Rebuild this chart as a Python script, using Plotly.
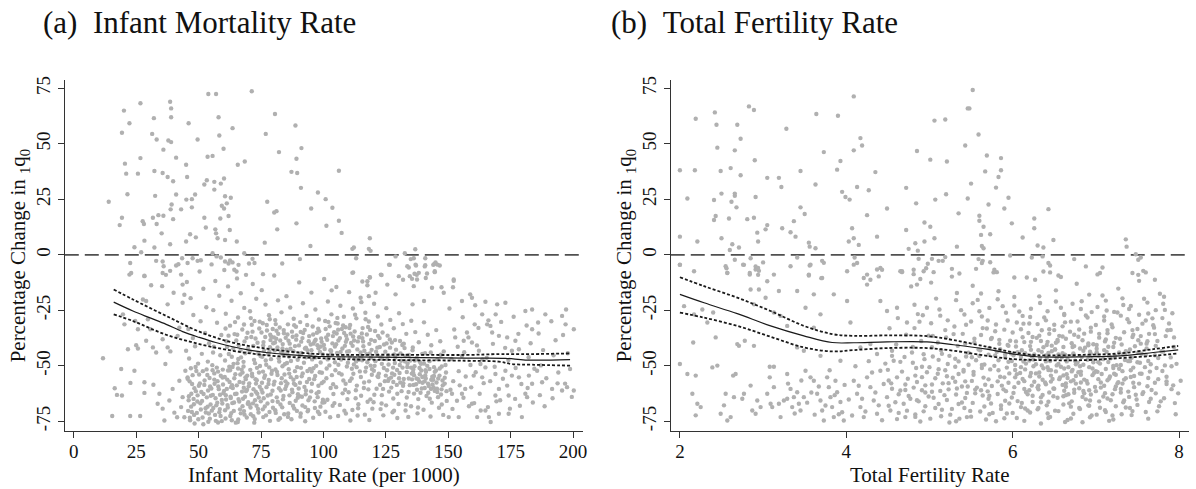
import plotly.graph_objects as go

FONT = "Liberation Serif, Times New Roman, serif"

# ---------------- Panel (a): Infant Mortality Rate ----------------
# scatter points "x,y"
imr_upper = """
14.0,23.9 18.4,13.4 19.3,16.7 19.3,55.0 20.1,65.0 20.5,41.1 21.0,36.6 21.5,27.3 22.3,59.3 24.3,3.4
25.7,36.6 26.7,43.6 27.0,1.2 26.7,68.3 27.6,15.2 28.1,13.9 28.3,6.4 31.4,54.5 31.7,16.7 32.1,61.6
32.3,37.8 32.6,26.6 32.3,3.3 33.2,52.0 33.2,13.9 33.9,17.9 35.2,9.7 35.6,36.9 35.9,47.4 35.9,17.6
37.6,35.1 37.9,51.5 38.6,69.0 39.0,66.0 39.0,62.0 39.0,50.8 38.8,20.5 39.2,22.7 38.6,4.8 39.8,33.2
39.8,16.1 41.0,43.8 41.0,27.2 43.0,20.5 45.0,40.6 45.4,35.1 45.1,24.9 45.0,6.0 46.0,59.3 46.6,9.3
47.3,25.1 47.3,21.4 48.6,27.2 49.6,52.0 48.9,7.9 52.3,31.7 52.3,16.7 52.9,12.3 53.3,33.6 53.6,44.2
53.9,72.5 55.6,44.6 56.3,29.4 56.3,32.9 57.0,72.5 56.7,11.5 57.0,9.7 57.6,7.5 58.0,62.0 58.3,53.8
58.7,16.4 58.9,32.1 59.3,22.1 60.0,47.8 60.2,34.4 60.6,26.4 60.2,20.9 60.6,6.7 61.3,23.2 62.0,17.5
62.5,11.2 62.9,25.7 63.6,57.1 65.3,6.0 65.7,40.6 68.5,42.1 71.3,73.7 76.5,5.5 76.9,54.5 77.5,23.9
80.3,19.1 81.2,19.7 80.6,63.5 81.5,11.5 82.2,46.3 87.2,37.4 88.8,58.3 89.2,43.3 89.5,36.9 89.2,14.2
91.0,30.2 91.2,48.1 95.1,20.9 94.8,4.0 97.8,28.1
22.6,-3.7 23.0,-8.2 28.3,-9.4 33.0,-2.7 35.6,-3.0 35.6,-8.2 36.9,-9.0 38.6,-7.2 41.0,-4.8 41.9,-4.2
43.4,-1.5 45.6,-3.7 47.6,-1.5 49.6,-2.7 50.9,-2.4 55.6,0.7 57.2,-0.7 58.9,-1.2 60.6,-3.0 62.0,-3.9
62.6,-2.5 63.6,-3.4 64.3,-6.7 65.2,-7.5 66.0,-4.5 68.3,0.7 69.0,-9.0 71.6,-1.8 72.4,-3.7 75.8,-8.7
83.5,-3.9 90.6,-1.9
100.9,25.1 101.2,13.1 103.6,21.2 106.2,37.9 106.2,15.4 107.3,9.9 111.6,2.7 112.2,3.3 113.1,-1.5
118.6,7.5 118.2,2.7 118.9,1.8 111.9,-7.9 115.6,-12.0 118.6,-10.2 123.3,-9.1 126.6,-4.5 128.9,-0.7
132.6,0.7 134.2,-5.7 135.0,-1.9 136.2,-1.5 136.8,2.5 137.1,-4.8 137.4,-9.0 136.5,-8.5 140.8,-1.5
140.6,-5.2 141.5,-8.4 144.0,-4.5 144.9,-3.4 146.6,-4.8 144.6,-7.8 131.9,-11.2 135.5,-10.8 152.2,-11.7
"""
imr_left = """
11.7,-46.6 15.4,-72.6 16.4,-60.1 17.3,-63.1 19.0,-51.4 19.3,-63.4 19.7,-26.8 20.3,-31.3 21.7,-42.5
22.6,-72.6 22.7,-57.7 24.3,-52.2 25.0,-40.7 25.7,-42.2 26.6,-72.6 25.7,-33.5 24.6,-29.8 22.3,-8.9
28.3,-9.6 29.0,-20.8 27.7,-20.1 29.7,-29.0 29.0,-38.7 28.3,-62.2 28.3,-57.4 30.7,-33.5 31.0,-13.7
31.7,-41.7 31.9,-58.5 33.0,-44.0 33.6,-67.1 34.3,-62.6 35.4,-14.1 35.6,-38.0 35.6,-69.3 36.0,-5.1
36.3,-74.6 36.7,-49.2 37.6,-22.3 37.6,-41.7 38.3,-65.6 38.7,-43.5 39.6,-60.4 40.0,-17.1 40.3,-71.1
41.4,-73.2 41.6,-36.5 42.3,-32.8 42.3,-56.7 43.0,-8.9 43.6,-13.4 43.6,-21.6 44.3,-18.0 44.7,-52.2
43.0,-68.6 43.6,-64.1 44.3,-73.2 45.0,-43.2 45.6,-55.2
"""
imr_right = """
103.3,-16.0 111.6,-8.1 118.6,-10.1 117.6,-13.7 123.0,-8.9 126.3,-4.4 125.6,-13.4 128.9,-17.8 130.2,-9.6
133.6,-5.1 134.6,-9.6 136.9,-4.4 138.2,-8.1 136.2,-14.1 137.5,-11.1 140.8,-4.7 141.0,-10.4 144.4,-4.1
144.6,-7.4 145.7,-4.4 143.5,-14.8 140.3,-20.8 135.7,-22.3 147.3,-14.6 148.2,-17.1 152.2,-11.1 151.9,-14.6
155.5,-20.8 158.8,-17.8 159.5,-19.3 164.9,-21.1 169.6,-22.3 172.9,-21.6 117.6,-11.9 114.9,-19.3 118.2,-18.6
120.9,-17.1 160.6,-31.3 163.6,-26.8 165.6,-31.3 166.9,-32.0 167.6,-35.0 169.0,-26.8 170.3,-36.5 176.9,-38.7
178.3,-42.5 180.9,-25.3 183.6,-24.6 186.0,-30.5 188.9,-26.8 195.6,-27.5 197.0,-31.3 200.3,-33.5 183.6,-33.5
173.6,-37.2 175.5,-43.2 162.3,-43.2 159.5,-39.5 158.1,-37.2 152.8,-37.2 155.5,-45.5 156.2,-38.7 164.9,-50.7
168.9,-53.7 172.9,-52.2 175.5,-54.4 178.3,-55.2 182.3,-54.4 183.6,-58.1 185.6,-52.2 187.6,-57.4 191.6,-60.4
195.6,-61.1 197.6,-59.6 200.3,-61.1 180.9,-62.6 181.6,-64.1 174.2,-63.4 170.3,-60.4 168.9,-63.4 174.2,-71.6
179.5,-73.1 170.3,-71.6 166.3,-73.1 164.9,-70.1 163.0,-70.1 161.6,-73.1 167.0,-75.3 159.5,-67.1 155.5,-62.6
156.8,-60.4 151.5,-62.6 154.2,-73.1 150.2,-73.1 163.6,-55.2 162.9,-49.2 160.2,-54.4
"""
imr_cloud = """
45.3,-12.2 46.8,-19.5 47.9,-27.1 45.9,-33.4 48.6,-41.2 46.2,-46.7 49.1,-52.3 45.6,-55.8 47.4,-58.2 48.9,-61.4
46.1,-63.7 49.5,-66.1 47.0,-68.4 45.8,-70.3 48.2,-72.1 46.6,-74.5 49.8,-49.0 47.7,-37.5 48.0,-64.9 49.3,-71.2
50.4,-7.5 51.9,-15.3 53.1,-23.6 50.8,-29.9 52.6,-35.2 54.2,-39.8 51.3,-44.6 53.7,-48.1 50.2,-53.9 52.4,-56.6
54.6,-59.3 51.1,-61.8 53.3,-64.2 50.7,-66.9 52.8,-69.1 54.1,-71.5 51.6,-73.3 53.9,-75.2 50.5,-57.9 54.8,-67.4
52.0,-62.7 53.5,-54.1 55.2,-4.3 56.7,-11.8 58.3,-18.4 55.9,-24.9 57.4,-30.6 59.1,-36.1 56.1,-41.4 58.7,-45.2
55.5,-49.7 57.8,-52.6 59.6,-55.3 56.4,-58.1 58.1,-60.5 55.7,-63.1 59.3,-65.4 57.1,-67.8 55.3,-70.2 58.8,-72.6
56.9,-74.8 59.9,-62.3 57.6,-56.9 55.8,-44.0 58.5,-69.5 56.3,-53.4 60.3,-6.8 61.8,-14.2 63.2,-20.7 60.9,-26.5
62.6,-31.9 64.4,-35.7 61.2,-38.9 63.9,-42.3 60.6,-47.6 62.3,-50.4 64.7,-53.8 61.5,-56.2 63.4,-58.7 60.2,-61.3
62.8,-63.9 64.2,-66.5 61.7,-68.8 63.1,-71.3 60.8,-73.7 64.9,-75.6 62.1,-44.7 63.7,-60.0 61.0,-65.2 64.0,-49.1
65.4,-10.6 66.9,-17.3 68.3,-23.9 65.8,-28.2 67.5,-33.6 69.2,-37.4 66.1,-40.7 68.7,-44.3 65.6,-48.8 67.2,-51.7
69.5,-54.4 66.4,-57.3 68.1,-59.9 65.2,-62.6 67.8,-64.8 69.7,-67.1 66.6,-69.6 68.4,-72.0 65.9,-74.2 67.0,-46.2
69.0,-61.4 65.5,-36.0 68.9,-56.0 66.3,-66.1 70.2,-3.9 71.7,-13.1 73.1,-19.8 70.6,-25.4 72.4,-29.8 74.3,-33.2
71.1,-37.0 73.6,-39.6 70.5,-43.5 72.2,-47.3 74.6,-50.1 71.4,-53.6 73.3,-56.5 70.1,-59.2 72.9,-61.7 74.1,-64.3
71.8,-66.9 73.8,-69.4 70.9,-71.8 72.5,-74.0 74.8,-45.6 71.3,-31.5 73.0,-58.0 70.4,-67.5 75.3,-15.9 76.8,-22.4
78.2,-27.2 75.7,-30.8 77.4,-34.1 79.1,-36.9 76.0,-39.3 78.6,-41.6 75.5,-45.9 77.1,-49.5 79.4,-52.2 76.3,-55.4
78.0,-58.2 75.2,-60.8 77.7,-63.4 79.6,-65.9 76.5,-68.3 78.4,-70.8 75.9,-73.1 77.3,-31.6 78.8,-38.4 76.2,-43.2
79.0,-47.0 75.6,-62.0 80.3,-9.3 81.8,-20.5 83.2,-25.9 80.7,-29.4 82.5,-32.7 84.2,-35.3 81.1,-37.8 83.7,-40.2
80.5,-43.1 82.1,-46.6 84.5,-49.3 81.4,-52.7 83.3,-55.6 80.1,-58.4 82.9,-61.1 84.0,-63.6 81.7,-66.2 83.5,-68.7
80.9,-71.2 82.6,-73.6 84.8,-57.0 81.2,-34.2 83.9,-44.8 80.6,-39.5 85.2,-18.6 86.7,-23.7 88.1,-28.8 85.8,-31.3
87.4,-34.6 89.2,-36.3 86.0,-38.7 88.6,-41.1 85.5,-44.5 87.0,-47.8 89.5,-50.6 86.3,-53.5 88.0,-56.3 85.1,-59.1
87.6,-61.9 89.7,-64.4 86.5,-66.7 88.3,-69.2 85.9,-71.5 87.2,-74.1 89.0,-32.4 86.8,-42.3 88.8,-58.6 85.4,-48.7
90.3,-12.4 91.8,-21.8 93.2,-27.5 90.7,-30.3 92.5,-33.8 94.3,-36.6 91.1,-39.1 93.6,-42.9 90.5,-45.4 92.2,-48.6
94.6,-51.4 91.3,-54.7 93.4,-57.3 90.1,-60.2 92.9,-62.8 94.0,-65.5 91.6,-67.9 93.7,-70.5 90.8,-72.9 92.7,-75.0
94.9,-40.4 91.9,-35.2 93.1,-46.1 90.4,-63.7 95.2,-17.0 96.8,-24.6 98.2,-29.1 95.7,-32.3 97.4,-35.1 99.1,-37.7
96.0,-40.0 98.6,-43.7 95.5,-47.1 97.1,-50.0 99.4,-53.1 96.3,-56.0 98.0,-59.0 95.1,-61.5 97.7,-64.1 99.6,-66.6
96.6,-69.0 98.4,-71.7 95.9,-73.4 97.9,-33.3 99.0,-41.3 96.9,-38.2 95.3,-52.6 98.9,-48.5 100.3,-10.9 101.8,-21.0
103.2,-26.8 100.7,-29.8 102.5,-32.2 104.3,-34.9 101.1,-37.2 103.6,-39.9 100.5,-42.4 102.2,-45.7 104.6,-48.4 101.3,-51.2
103.4,-54.2 100.1,-57.1 102.9,-60.0 104.0,-62.7 101.6,-65.3 103.7,-68.0 100.8,-70.7 102.7,-73.2 104.9,-30.7 101.9,-36.0
103.1,-43.3 100.4,-66.4 105.2,-14.5 106.8,-22.9 108.2,-27.9 105.7,-30.9 107.4,-33.4 109.1,-36.4 106.0,-38.6 108.6,-41.0
105.5,-44.2 107.1,-47.2 109.4,-50.3 106.3,-53.3 108.0,-56.6 105.1,-59.6 107.7,-62.4 109.6,-65.0 106.6,-67.6 108.4,-70.2
105.9,-72.6 107.9,-31.8 109.0,-39.2 106.9,-43.8 105.3,-35.4 108.9,-58.1 110.3,-16.8 111.8,-24.2 113.2,-28.6 110.7,-31.6
112.5,-34.5 114.3,-37.1 111.1,-39.7 113.6,-42.6 110.5,-45.9 112.2,-49.4 114.6,-52.5 111.3,-55.7 113.4,-58.9 110.1,-61.9
112.9,-64.6 114.0,-67.3 111.6,-69.9 113.7,-72.4 110.8,-74.6 112.7,-27.0 114.9,-44.0 111.9,-36.8 113.1,-48.0 110.4,-33.0
115.2,-21.3 116.8,-26.1 118.2,-30.0 115.7,-33.0 117.4,-35.9 119.1,-38.3 116.0,-41.2 118.6,-44.4 115.5,-47.5 117.1,-50.8
119.4,-54.0 116.3,-57.5 118.0,-60.6 115.1,-63.5 117.7,-66.2 119.6,-69.3 116.6,-72.0 118.4,-74.4 115.9,-39.0 117.9,-32.5
119.0,-46.3 116.9,-29.0 120.3,-22.0 121.8,-27.8 123.2,-31.4 120.7,-34.3 122.5,-37.5 124.3,-40.4 121.1,-43.6 123.6,-46.8
120.5,-50.0 122.2,-53.5 124.6,-56.9 121.3,-60.3 123.4,-63.2 120.1,-66.4 122.9,-69.5 124.0,-72.3 121.6,-41.8 123.7,-35.0
120.8,-47.9 122.7,-58.5 125.2,-24.0 126.8,-29.3 128.2,-33.1 125.7,-36.4 127.4,-39.5 129.1,-42.7 126.0,-45.3 128.6,-48.7
125.5,-52.0 127.1,-55.3 129.4,-58.6 126.3,-61.6 128.0,-64.7 125.1,-67.8 127.7,-70.9 129.6,-73.5 126.6,-38.1 128.4,-44.9
125.9,-56.8 127.9,-50.8 130.3,-26.3 131.8,-31.2 133.2,-35.6 130.7,-38.8 132.5,-42.0 134.3,-45.1 131.1,-47.7 133.6,-50.5
130.5,-53.2 132.2,-55.9 134.6,-58.7 131.3,-61.4 133.4,-64.3 130.1,-67.2 132.9,-70.1 134.0,-73.0 131.6,-40.6 133.7,-48.9
130.8,-57.5 135.2,-29.7 136.8,-34.8 138.2,-39.4 135.7,-43.0 137.4,-46.4 139.1,-49.1 136.0,-51.6 138.6,-53.8 135.5,-56.1
137.1,-58.3 139.4,-60.2 136.3,-62.5 138.0,-65.0 135.1,-68.2 137.7,-71.4 139.6,-55.0 136.6,-47.6 138.4,-57.2 135.9,-52.9
138.9,-62.1 140.3,-30.4 141.8,-36.0 143.2,-40.7 140.7,-44.3 142.5,-47.9 144.3,-50.6 141.1,-52.7 143.6,-54.9 140.5,-57.0
142.2,-59.1 144.6,-61.3 141.3,-63.6 143.4,-66.6 140.1,-69.8 142.9,-72.8 144.0,-56.3 141.6,-50.0 143.7,-58.4 140.8,-54.3
145.2,-33.9 146.8,-38.9 148.2,-43.5 145.7,-47.0 147.4,-50.3 149.1,-53.0 146.0,-55.7 148.6,-58.0 145.5,-60.3 147.1,-62.9
149.4,-65.8 146.3,-68.9 148.0,-72.1 145.1,-52.1 147.7,-56.6 145.9,-64.1 150.5,-24.2 152.4,-33.6 153.8,-41.4 151.3,-46.9
154.2,-52.4 152.0,-56.9 150.9,-60.8 153.5,-65.7 151.7,-69.4 154.6,-58.8 155.8,-28.1 157.5,-35.0 156.4,-43.9 158.9,-49.6
157.0,-54.8 159.2,-59.7 156.1,-64.4 158.3,-68.2 160.8,-22.7 162.1,-32.9 161.5,-40.8 163.7,-47.1 161.0,-52.9 164.2,-57.8
162.6,-62.6 160.4,-66.8 166.1,-29.5 167.9,-40.1 165.4,-46.4 168.6,-50.4 166.8,-56.9 169.3,-66.0 165.9,-68.6 171.2,-30.2
172.8,-41.9 174.1,-47.4 171.9,-55.8 173.6,-58.9 170.8,-65.5 174.7,-69.3 176.2,-27.9 178.1,-35.6 177.0,-51.0 179.3,-58.2
176.8,-64.9 178.7,-68.0 181.4,-31.8 183.0,-39.8 182.2,-46.1 184.5,-51.3 181.8,-60.0 183.9,-66.5 186.2,-35.4 188.0,-42.9
187.1,-49.8 189.3,-55.6 186.7,-63.2 188.6,-68.2 191.3,-29.9 193.0,-38.5 192.2,-45.2 194.1,-53.0 191.8,-64.6 193.8,-57.9
196.0,-36.1 197.9,-44.3 198.8,-51.4 196.8,-58.0 199.5,-64.0 197.2,-24.6
"""
imr_dense = """
46.9,-51.1 47.6,-54.2 46.4,-57.0 48.3,-60.1 47.1,-62.6 46.0,-65.5 48.1,-67.3 47.3,-70.8 46.5,-73.4 48.4,-76.0
48.8,-50.5 50.1,-59.0 49.6,-63.3 50.9,-69.7 49.9,-74.1 51.7,-52.4 52.3,-58.6 51.4,-65.8 52.9,-71.0 51.9,-76.3
53.2,-51.6 54.4,-55.5 53.8,-61.1 54.9,-63.5 53.6,-68.4 54.5,-73.8 55.6,-52.0 56.3,-56.2 55.1,-60.2 56.8,-64.6
55.9,-69.0 56.6,-72.1 57.3,-50.8 58.9,-54.5 57.9,-59.3 58.6,-63.0 57.5,-66.6 58.3,-70.9 57.8,-75.5 59.7,-51.7
60.5,-55.0 59.8,-58.4 60.9,-63.2 59.5,-67.0 60.6,-70.0 59.3,-74.9 61.8,-52.1 62.4,-57.3 61.3,-60.4 62.9,-64.5
61.6,-67.7 62.7,-72.6 63.6,-50.5 64.3,-55.6 63.0,-59.6 64.6,-62.7 63.5,-66.8 64.1,-70.3 63.3,-74.5 65.8,-51.2
66.7,-53.9 65.3,-58.8 67.4,-61.6 66.0,-65.0 67.6,-68.2 66.9,-71.4 65.7,-75.3 68.0,-50.3 68.8,-55.2 67.9,-57.6
69.4,-60.8 68.6,-63.9 69.9,-66.4 68.2,-70.4 69.3,-73.3 70.7,-51.8 71.5,-54.7 70.3,-57.9 72.0,-60.5 71.2,-63.0
72.6,-65.5 70.8,-68.8 71.9,-72.7 73.4,-50.9 74.2,-53.0 72.8,-56.0 74.5,-59.4 73.5,-62.6 74.9,-66.0 73.2,-68.0
74.0,-71.0 72.3,-75.6 75.8,-52.6 76.6,-54.3 75.4,-57.6 77.2,-59.6 76.1,-64.6 77.6,-67.0 75.7,-69.6 77.0,-72.3
78.3,-50.7 79.2,-53.6 78.1,-56.4 79.6,-61.2 78.9,-62.9 79.8,-68.9 78.6,-74.8 80.8,-51.6 81.6,-54.1 80.4,-57.1
82.2,-60.1 81.3,-64.2 82.8,-67.4 80.7,-70.0 82.0,-74.3 83.6,-50.2 84.4,-53.9 83.0,-57.8 84.7,-60.4 83.8,-65.1
84.3,-71.8 86.1,-51.5 86.9,-55.1 85.6,-58.0 87.4,-60.7 86.4,-63.3 87.8,-68.0 85.8,-73.0 88.6,-52.4 89.3,-55.0
88.2,-58.0 89.8,-62.8 88.9,-65.7 89.4,-70.3 91.0,-50.9 91.7,-53.4 90.6,-57.6 92.4,-59.5 91.4,-63.9 92.7,-68.6
90.9,-71.5 93.6,-52.3 94.3,-55.9 93.0,-61.1 94.6,-64.3 93.9,-69.9 96.0,-51.1 96.7,-54.6 95.4,-58.1 97.3,-62.4
96.5,-66.0 97.8,-70.7 98.5,-52.9 99.3,-57.8 98.1,-61.8 99.8,-65.3 98.8,-68.4
60.8,-33.2 62.0,-36.4 61.4,-41.5 63.3,-45.9 62.6,-52.0 64.6,-30.3 65.1,-38.6 66.8,-43.1 65.9,-46.9 67.6,-53.0
68.2,-31.4 69.6,-35.1 68.4,-39.0 69.8,-42.2 68.0,-48.2 70.9,-28.5 71.6,-34.6 72.8,-37.7 71.9,-41.0 73.9,-44.5
72.6,-48.8 74.5,-30.1 75.2,-35.0 76.7,-37.0 75.9,-40.8 77.9,-44.7 76.9,-47.6 78.5,-29.0 79.7,-33.4 78.7,-36.0
79.9,-39.8 78.3,-43.8 80.9,-31.2 81.9,-35.6 80.2,-37.2 82.7,-38.6 81.6,-41.7 83.1,-43.9 82.3,-48.1 84.1,-33.9
84.9,-37.4 83.6,-42.2 85.6,-35.9 86.5,-40.0 85.3,-42.7 87.7,-36.9 86.2,-45.8 88.3,-31.7 89.1,-38.2 88.0,-43.4
89.7,-47.3 90.9,-34.7 91.6,-37.5 90.2,-40.8 92.6,-42.2 91.2,-44.2 93.5,-31.6 94.1,-38.9 93.0,-41.8 94.7,-45.1
95.9,-35.9 96.5,-38.9 95.2,-43.0 97.6,-40.7 96.8,-46.2 98.3,-34.4 99.3,-39.2 98.0,-42.1 99.7,-44.9 100.9,-33.4
101.5,-38.3 100.2,-40.6 102.8,-43.0 101.7,-47.1 103.8,-36.6 104.6,-41.3 103.0,-45.0 105.9,-33.7 106.6,-37.5
105.1,-40.3 107.6,-42.2 106.2,-46.3 108.3,-35.2 109.4,-38.0 108.0,-45.6 109.8,-48.6 110.9,-35.5 111.7,-41.0
110.3,-43.4 112.6,-46.8 111.4,-51.3 113.8,-39.0 114.7,-45.4 113.3,-50.6 115.6,-37.5 116.4,-43.2 115.2,-45.9
117.6,-48.4 116.8,-52.6 118.4,-40.1 119.3,-42.8 118.9,-49.9 120.6,-38.8 121.5,-45.0 120.2,-52.2 122.6,-41.5
123.4,-49.1 122.0,-55.0 124.8,-43.6 125.6,-47.0 124.2,-51.0 126.7,-41.8 127.5,-53.4 126.2,-55.9 128.8,-46.2
129.5,-51.9 128.0,-57.3 130.9,-44.4 131.7,-50.8 130.3,-55.6 132.7,-48.0 133.4,-52.8 132.0,-57.8 134.8,-47.6
135.4,-53.5 134.2,-55.7 136.5,-50.2 137.3,-55.7 136.1,-58.6 138.6,-48.2 139.2,-52.1 138.0,-56.0 140.3,-49.0
141.0,-55.7 140.6,-60.0 142.5,-51.4 143.2,-56.3 142.0,-62.1 144.6,-52.7 145.3,-57.5 144.1,-59.7 146.5,-54.4
147.3,-60.6 148.6,-55.4 149.3,-61.4 147.0,-45.0 143.0,-44.0
101.2,-55.6 102.4,-49.8 103.9,-58.3 104.8,-52.0 106.0,-49.5 107.3,-53.9 108.7,-60.8 109.5,-43.6 110.6,-56.8
112.0,-53.6 113.0,-61.0 114.1,-47.3 115.0,-55.0 116.2,-60.0 117.3,-44.8 118.3,-57.0 119.5,-51.5 120.4,-63.0
121.7,-54.7 122.8,-46.2 123.9,-60.4 125.0,-54.4 126.1,-49.4 127.2,-59.8 128.4,-54.0 129.6,-62.6 130.6,-49.6
131.9,-59.0 132.9,-45.6 134.1,-61.8 135.1,-50.8 136.3,-54.2 137.5,-60.8 138.5,-51.0 139.7,-57.6 140.9,-52.0
141.9,-58.0 143.1,-60.4 144.3,-54.6 145.6,-61.8 146.6,-51.2 147.8,-58.8 148.9,-49.6 102.0,-30.2 105.6,-28.4
108.9,-32.6 112.3,-38.6 115.4,-35.4 118.7,-33.8 121.9,-36.5 125.3,-39.9 128.7,-38.4 132.2,-40.0 135.8,-41.7
139.6,-44.6 104.4,-66.8 109.0,-71.5 113.9,-69.1 118.8,-65.1 123.3,-67.0 128.3,-70.2 133.0,-67.5 137.9,-68.8
142.6,-64.8 147.4,-67.4
"""
imr_fit_x = [16, 23.7, 30.3, 37, 43.6, 50.3, 56.9, 63.6, 70.2, 76.9, 83.5, 90.2, 98.2, 103.9, 130.2, 156.8, 172.9, 180.9, 198.8]
imr_fit = [-21.3, -25.3, -28.3, -31.3, -34.6, -37.2, -39.5, -41.4, -42.9, -44.0, -44.7, -45.3, -45.8, -45.9, -46.2, -46.5, -46.6, -47.4, -47.2]
imr_band_x = [16, 23.7, 37, 50.3, 63.6, 76.9, 90.2, 98.2, 103.9, 130.2, 156.8, 170.3, 175.5, 183.6, 198.8]
imr_hi = [-15.6, -20.1, -27.5, -34.6, -39.5, -42.2, -44.0, -44.7, -45.0, -45.0, -45.1, -44.7, -44.7, -44.7, -44.4]
imr_lo = [-26.8, -29.8, -36.0, -40.2, -43.2, -45.2, -46.2, -46.5, -46.9, -47.4, -47.7, -48.1, -49.2, -49.5, -49.9]
imr_ticks = [0, 25, 50, 75, 100, 125, 150, 175, 200]

# ---------------- Panel (b): Total Fertility Rate ----------------
tfr_upper = """
2.00,38.1 2.00,8.2 2.00,-4.5 2.09,25.4 2.18,38.1 2.19,61.3 2.21,6.0 2.41,24.7 2.41,15.7 2.42,64.2
2.44,58.6 2.43,17.5 2.45,48.3 2.49,37.8 2.50,7.5 2.50,27.6 2.56,-6.0 2.57,-8.2 2.59,16.4 2.60,2.2
2.61,39.1 2.62,23.9 2.63,4.8 2.66,47.1 2.66,27.6 2.66,26.6 2.68,21.4 2.66,-2.2 2.69,58.6 2.71,3.3
2.73,52.3 2.73,35.9 2.77,-4.5 2.81,16.1 2.83,66.9 2.85,-1.5 2.84,-8.2 2.89,65.3 2.90,42.6 2.89,16.7
2.91,26.1 2.93,10.0 2.94,6.0 2.91,-5.2 2.95,-7.2 2.94,-9.0 3.00,-3.4 3.03,11.5 3.05,13.4 3.05,34.7
3.19,34.7 3.22,30.6 3.23,12.0 3.28,56.8 3.33,10.2 3.37,15.2 3.39,8.2 3.41,-1.2 3.45,37.8 3.45,21.4
3.50,18.4 3.55,5.5 3.56,3.7 3.56,-4.8 3.55,-9.3 3.63,31.7 3.63,3.0 3.64,63.5 3.71,-2.7 3.70,-10.5
3.73,46.3 3.89,38.4 3.90,62.7 3.93,42.3 3.95,28.4 3.99,26.1 4.04,24.9 4.03,6.0 4.07,12.0 4.09,71.4
4.09,47.1 4.09,7.5 4.10,-1.2 4.13,30.6 4.13,-3.7 4.15,4.5 4.17,52.6 4.19,49.3 4.25,17.9 4.27,29.1
4.29,-11.2 4.35,37.3 4.37,8.2 4.39,-9.7 4.43,-6.7 4.49,20.9 4.67,-7.8 4.72,30.2 4.72,11.2
4.75,2.7 4.83,5.2 4.84,23.2 4.85,46.8 4.86,1.9 4.87,-1.8 4.81,-6.7 4.81,-8.7 4.89,-10.9 4.94,14.6
4.94,6.0 4.96,-6.0 4.98,-4.0 5.01,12.7 5.01,42.9 5.03,-1.8 5.05,-7.8 5.06,60.5 5.06,7.5 5.07,24.9
5.11,-2.7 5.16,-2.7 5.19,61.0 5.19,-1.0 5.20,27.3 5.21,42.1 5.27,-6.3 5.33,3.7 5.35,18.7 5.36,-8.4
5.43,49.3 5.46,25.4 5.46,66.0 5.48,66.0 5.50,32.1 5.52,74.3 5.56,-6.3 5.59,54.2 5.60,17.6 5.60,15.4
5.59,-1.9 5.62,9.0 5.63,-3.7 5.64,-2.7 5.63,4.0 5.65,12.7 5.65,3.0 5.67,37.6 5.69,44.8 5.71,22.7
5.73,9.3 5.73,-3.3 5.78,-6.7 5.81,-7.8 5.80,30.3 5.83,35.1 5.86,43.6 5.86,38.1 5.90,20.9 5.95,25.7
5.97,-0.3 5.99,14.2 6.02,-10.2 6.12,7.8 6.17,-10.2 6.23,-1.2 6.26,12.0 6.26,16.4 6.30,4.2 6.36,-0.7
6.37,3.3 6.37,-7.5 6.43,20.6 6.43,-3.7 6.45,-4.8 6.45,-7.9 6.49,6.7 6.55,-9.3 6.58,-10.0 6.74,-1.9
6.88,-5.2 7.05,-8.2 7.08,-5.7 7.36,7.0 7.37,3.7 7.48,0.3 7.51,-2.2 7.54,-1.2 7.44,-8.2 7.51,-9.0
7.57,-7.2 7.60,-7.9 7.71,-11.2
"""
tfr_left = """
2.00,-49.2 2.09,-53.7 2.16,-39.5 2.15,-62.6 2.19,-54.4 2.21,-67.1 2.25,-68.6 2.19,-72.3 2.05,-23.1 2.17,-26.8
2.27,-24.6 2.33,-30.5 2.40,-26.0 2.43,-37.2 2.39,-50.7 2.45,-49.9 2.49,-71.6 2.53,-67.8 2.55,-62.6 2.57,-74.6
2.61,-73.1 2.64,-54.4 2.67,-53.7 2.65,-64.1 2.69,-40.2 2.71,-41.0 2.75,-64.8 2.77,-62.6 2.78,-38.7 2.85,-58.9
2.87,-70.1 2.91,-71.6 2.93,-65.6 2.97,-68.6 2.89,-41.0 2.89,-22.3 2.95,-15.6 2.85,-15.6 2.91,-6.6 3.03,-19.3
3.05,-11.9 3.05,-62.6 3.09,-67.1 3.11,-68.6 3.08,-55.2 3.13,-59.6 3.19,-67.1 3.21,-73.1 3.25,-65.6 3.29,-64.8
3.33,-60.4 3.35,-68.6 3.37,-64.1 3.41,-61.9 3.43,-67.1 3.45,-70.1 3.49,-64.1 3.51,-52.2 3.49,-43.2 3.41,-41.7
3.13,-50.4 3.08,-50.4 3.29,-53.7 3.19,-16.3 3.13,-26.0 3.21,-27.5 3.29,-32.0 3.41,-16.3 3.51,-23.8 3.57,-55.2
3.61,-56.7 3.65,-62.6 3.69,-65.6 3.71,-70.1 3.73,-74.6 3.77,-55.2 3.79,-59.6 3.81,-64.1 3.83,-68.6 3.85,-73.1
3.87,-56.7 3.89,-61.9 3.93,-66.3 3.95,-70.9 3.97,-74.6 3.93,-47.7 3.69,-45.5 3.61,-32.8 3.69,-26.8 3.61,-17.8
3.71,-10.4 3.85,-17.8 4.01,-20.8 4.05,-30.5 4.09,-56.7 4.13,-62.6 4.17,-68.6 4.21,-73.1 4.25,-55.2 4.29,-59.6
4.33,-65.6 4.37,-71.6 4.41,-52.2 4.45,-58.2 4.49,-64.1 4.53,-70.1 4.57,-47.7 4.61,-55.2 4.65,-61.1 4.69,-67.1
4.71,-73.1 4.21,-10.4 4.25,-13.4 4.37,-6.6 4.41,-20.8 4.49,-25.3 4.61,-23.8 4.67,-7.4 4.17,-41.7 4.29,-40.2
4.37,-44.7 4.55,-43.2 2.00,-4.4 2.17,-7.4 2.55,-5.1 2.57,-8.1 2.76,-4.4 2.84,-8.9 2.94,-5.9 3.13,-8.9
3.33,-5.1 3.55,-8.9 3.57,-4.4 3.73,-3.6 4.01,-7.4 4.09,-4.4 4.25,-8.9 4.41,-5.9 4.65,-7.4 4.85,-13.4
4.73,-30.5 4.97,-23.8 4.93,-7.4
"""
tfr_cloud = """
4.78,-14.2 4.82,-22.5 4.88,-30.1 4.93,-44.8 4.80,-48.6 4.97,-52.9 4.85,-57.3 4.91,-61.0 4.77,-64.8 4.95,-68.2
4.83,-71.9 4.89,-75.1 4.99,-36.4 4.86,-26.7 5.02,-12.5 5.08,-19.7 5.13,-27.4 5.19,-33.9 5.04,-45.8 5.22,-49.2
5.10,-53.6 5.16,-57.9 5.03,-61.7 5.21,-65.4 5.07,-69.0 5.14,-72.7 5.24,-75.5 5.11,-47.3 5.18,-63.2 5.27,-9.8
5.33,-17.2 5.38,-24.9 5.44,-31.5 5.29,-35.7 5.47,-44.1 5.35,-48.0 5.41,-51.8 5.28,-55.4 5.46,-59.3 5.32,-62.9
5.39,-66.5 5.49,-70.3 5.36,-73.8 5.43,-40.0 5.31,-57.2 5.52,-13.9 5.58,-20.3 5.63,-27.8 5.69,-33.2 5.54,-37.8
5.72,-41.9 5.60,-45.6 5.66,-49.4 5.53,-52.7 5.71,-56.1 5.57,-59.8 5.64,-63.4 5.74,-67.0 5.61,-70.6 5.68,-74.2
5.56,-47.5 5.70,-61.5 5.62,-36.1 5.77,-7.9 5.83,-16.4 5.88,-23.1 5.94,-29.6 5.79,-34.4 5.97,-38.7 5.85,-42.5
5.91,-46.3 5.78,-50.0 5.96,-53.4 5.82,-57.0 5.89,-60.6 5.99,-64.3 5.86,-67.9 5.93,-71.5 5.80,-75.0 5.95,-48.2
5.84,-40.1 5.90,-55.2 5.98,-44.4 6.02,-19.0 6.08,-25.5 6.13,-31.0 6.19,-35.2 6.04,-39.0 6.22,-42.8 6.10,-46.0
6.16,-49.0 6.03,-51.9 6.21,-54.7 6.07,-57.6 6.14,-60.4 6.24,-63.5 6.11,-66.7 6.18,-70.1 6.05,-73.5 6.20,-47.6
6.09,-53.2 6.15,-44.3 6.23,-58.9 6.01,-62.2 6.12,-37.1 6.27,-11.2 6.33,-21.7 6.38,-28.2 6.44,-33.5 6.29,-37.4
6.47,-40.9 6.35,-43.7 6.41,-46.5 6.28,-49.3 6.46,-52.0 6.32,-54.8 6.39,-57.5 6.49,-60.2 6.36,-63.1 6.43,-66.2
6.30,-69.6 6.45,-73.0 6.34,-76.0 6.40,-48.0 6.48,-55.9 6.26,-44.9 6.37,-51.1 6.42,-39.2 6.31,-58.9 6.52,-16.0
6.58,-23.8 6.63,-30.4 6.69,-34.6 6.54,-38.3 6.72,-41.5 6.60,-44.3 6.66,-47.0 6.53,-49.8 6.71,-52.5 6.57,-55.2
6.64,-57.9 6.74,-60.7 6.61,-63.7 6.68,-66.9 6.55,-70.4 6.70,-73.7 6.59,-46.2 6.67,-50.6 6.51,-42.6 6.73,-56.5
6.62,-61.2 6.56,-36.5 6.65,-53.8 6.77,-13.0 6.83,-20.9 6.88,-27.3 6.94,-32.8 6.79,-36.9 6.97,-40.3 6.85,-43.2
6.91,-45.8 6.78,-48.5 6.96,-51.2 6.82,-54.0 6.89,-56.8 6.99,-59.5 6.86,-62.4 6.93,-65.6 6.80,-69.0 6.95,-72.4
6.84,-75.4 6.90,-47.3 6.98,-53.1 6.76,-58.0 6.87,-41.8 6.92,-61.0 6.81,-50.2 7.02,-8.8 7.08,-18.3 7.13,-25.1
7.19,-31.4 7.04,-35.6 7.22,-39.6 7.10,-42.9 7.16,-45.7 7.03,-48.4 7.21,-51.0 7.07,-53.7 7.14,-56.5 7.24,-59.3
7.11,-62.3 7.18,-65.5 7.05,-68.9 7.20,-72.4 7.09,-47.0 7.17,-54.8 7.01,-43.9 7.23,-60.5 7.12,-38.1 7.27,-15.2
7.33,-22.6 7.38,-29.0 7.44,-33.9 7.29,-37.8 7.47,-41.2 7.35,-44.6 7.41,-47.9 7.28,-51.3 7.46,-54.6 7.32,-58.0
7.39,-61.6 7.49,-65.2 7.36,-68.8 7.43,-72.2 7.30,-49.6 7.45,-36.0 7.34,-56.2 7.52,-11.7 7.58,-19.8 7.63,-26.4
7.69,-31.7 7.54,-36.6 7.72,-41.0 7.60,-45.1 7.66,-49.3 7.53,-53.5 7.71,-57.6 7.57,-61.9 7.64,-66.3 7.74,-70.5
7.61,-40.0 7.68,-28.6 7.77,-17.5 7.83,-24.8 7.88,-30.9 7.94,-37.2 7.79,-43.4 7.97,-49.1 7.85,-54.9 7.91,-60.5
7.78,-66.0 7.96,-71.8 7.86,-34.0 8.02,-56.7 7.81,-22.0 7.99,-62.4
"""
tfr_dense = """
3.30,-58.0 3.38,-71.5 3.46,-56.6 3.53,-66.6 3.58,-62.0 3.62,-72.0 3.67,-59.3 3.75,-67.9 3.80,-52.0 3.86,-63.2
3.91,-71.8 3.98,-58.6 4.03,-65.2 4.07,-72.4 4.11,-50.2 4.15,-59.0 4.19,-64.8 4.23,-70.6 4.27,-47.9 4.31,-53.0
4.35,-62.0 4.39,-67.8 4.43,-74.5 4.47,-49.0 4.51,-56.6 4.55,-60.3 4.59,-66.4 4.63,-71.2 4.67,-52.6 4.71,-58.4
4.75,-63.6 4.79,-44.0 4.83,-54.4 4.87,-66.0 4.91,-50.4 4.95,-58.8 4.99,-63.8 5.03,-41.6 5.07,-55.6 5.11,-67.2
5.15,-44.6 5.19,-52.0 5.23,-60.6 5.27,-69.4 5.31,-46.8 5.35,-53.7 5.39,-59.3 5.43,-64.5 5.47,-49.5 5.51,-56.8
5.55,-62.4 5.59,-42.6 5.63,-51.0 5.67,-58.5 5.71,-64.8 5.75,-37.4 5.79,-45.3 5.83,-52.0 5.87,-58.9 5.91,-65.7
5.95,-41.0 5.99,-47.8 6.03,-55.2 6.06,-43.9 6.10,-50.6 6.14,-56.9 6.18,-62.8 6.22,-39.2 6.25,-47.2 6.28,-53.4
6.31,-60.6 6.34,-66.4 6.37,-41.6 6.40,-45.3 6.43,-51.9 6.46,-57.1 6.49,-63.7 6.52,-39.6 6.55,-44.9 6.58,-50.4
6.61,-54.3 6.64,-59.4 6.67,-62.8 6.70,-68.4 6.73,-45.0 6.76,-49.3 6.79,-52.9 6.82,-57.5 6.85,-61.3 6.88,-65.1
6.91,-39.9 6.94,-44.6 6.97,-48.4 7.00,-52.4 7.03,-56.0 7.06,-59.8 7.09,-63.8 7.12,-70.8 7.15,-41.4 7.18,-46.6
7.21,-50.0 7.24,-54.0 7.27,-57.4 7.30,-62.0 7.33,-66.4 7.36,-43.4 7.39,-47.9 7.42,-52.0 7.45,-57.6 7.48,-63.0
7.51,-38.5 7.55,-44.5 7.59,-50.6 7.63,-55.5 7.67,-60.9 7.71,-35.7 7.75,-46.5 7.80,-52.3 7.85,-58.2 7.90,-46.2
6.05,-30.5 6.21,-28.0 6.35,-34.0 6.50,-31.5 6.62,-27.1 6.78,-30.0 6.95,-25.8 7.10,-29.6 7.26,-26.0 7.40,-24.4
7.56,-31.0 6.15,-69.2 6.42,-71.5 6.66,-74.4 6.92,-68.0 7.16,-74.8 7.41,-69.0 7.63,-73.8 5.72,-71.8 5.45,-73.1
6.32,-36.4 6.47,-43.4 6.60,-36.8 6.74,-41.1 6.86,-35.5 7.01,-40.6 7.14,-35.3 7.28,-44.0 7.50,-48.4 7.62,-38.9
4.52,-33.1 4.55,-45.5 4.50,-51.8 4.54,-57.9 4.51,-68.0 4.62,-28.5 4.60,-40.4 4.65,-48.2 4.63,-62.8 4.61,-74.0
4.72,-36.0 4.70,-46.0 4.74,-55.8 4.71,-60.9 4.73,-70.2 4.82,-33.0 4.80,-41.5 4.84,-51.0 4.81,-59.8 4.85,-65.5
4.83,-73.0 4.92,-27.2 4.90,-38.8 4.94,-47.0 4.91,-55.1 4.95,-62.0 4.93,-70.5 5.02,-30.8 5.04,-36.5 5.00,-50.6
5.03,-58.4 5.05,-64.4 5.01,-73.8 5.12,-24.6 5.10,-39.5 5.14,-43.0 5.11,-51.5 5.13,-61.3 5.15,-69.8 5.22,-29.5
5.20,-37.2 5.24,-45.5 5.21,-54.7 5.23,-57.8 5.25,-72.0 5.32,-20.4 5.30,-32.3 5.34,-41.0 5.31,-50.4 5.33,-60.2
5.35,-67.2 5.32,-75.0 5.42,-26.9 5.40,-35.6 5.44,-45.8 5.41,-52.6 5.43,-57.0 5.45,-62.2 5.42,-69.0 5.52,-21.8
5.50,-30.0 5.54,-39.5 5.51,-46.1 5.53,-54.0 5.55,-60.7 5.52,-66.7 5.50,-72.9 5.62,-17.4 5.60,-25.4 5.64,-33.0
5.61,-43.0 5.63,-49.6 5.65,-55.3 5.62,-61.0 5.66,-68.3 5.72,-23.9 5.70,-29.6 5.74,-37.9 5.71,-45.0 5.73,-51.6
5.75,-59.1 5.72,-63.5 5.76,-71.2 5.82,-20.0 5.80,-31.4 5.84,-38.3 5.81,-43.7 5.83,-47.5 5.85,-54.9 5.82,-62.7
5.86,-69.4 5.92,-26.1 5.90,-33.7 5.94,-40.6 5.91,-44.9 5.93,-50.8 5.95,-57.6 5.92,-61.4 5.96,-67.0 5.90,-73.6
6.02,-22.8 6.00,-35.0 6.04,-41.3 6.01,-45.2 6.03,-49.6 6.05,-53.8 6.02,-59.6 6.06,-65.9 6.00,-71.2 6.12,-27.5
6.10,-33.5 6.14,-39.3 6.11,-43.0 6.13,-48.0 6.15,-51.6 6.12,-55.9 6.16,-61.8 6.10,-68.6 6.14,-74.8 6.22,-24.3
6.20,-30.9 6.24,-37.0 6.21,-41.1 6.23,-45.7 6.25,-50.2 6.22,-53.2 6.26,-57.2 6.20,-61.0 6.24,-66.3 6.21,-71.0
6.32,-18.7 6.30,-31.2 6.34,-38.8 6.31,-43.0 6.33,-46.5 6.35,-49.8 6.32,-53.0 6.36,-56.3 6.30,-59.7 6.34,-64.2
6.31,-69.0 6.42,-25.4 6.40,-29.5 6.44,-35.6 6.41,-40.6 6.43,-44.2 6.45,-47.8 6.42,-50.6 6.46,-54.4 6.40,-58.3
6.44,-62.0 6.41,-67.8 6.43,-73.5 6.52,-21.0 6.50,-33.9 6.54,-39.0 6.51,-42.6 6.53,-46.4 6.55,-49.2 6.52,-52.5
6.56,-56.0 6.50,-60.3 6.54,-64.4 6.51,-70.2 6.62,-26.6 6.60,-32.2 6.64,-37.8 6.61,-41.5 6.63,-45.0 6.65,-48.0
6.62,-51.2 6.66,-55.5 6.60,-58.6 6.64,-63.2 6.61,-67.4 6.63,-75.3 6.72,-22.0 6.70,-30.1 6.74,-36.0 6.71,-39.8
6.73,-44.4 6.75,-47.7 6.72,-51.8 6.76,-54.6 6.70,-57.0 6.74,-62.1 6.71,-66.0 6.73,-71.6 6.82,-24.4 6.80,-33.6
6.84,-38.5 6.81,-42.2 6.83,-46.0 6.85,-49.5 6.82,-52.6 6.86,-56.2 6.80,-60.1 6.84,-64.0 6.81,-69.5 6.92,-17.9
6.90,-28.2 6.94,-34.6 6.91,-40.7 6.93,-43.6 6.95,-47.0 6.92,-50.6 6.96,-54.2 6.90,-58.0 6.94,-62.9 6.91,-67.8
6.93,-73.2 7.02,-23.5 7.00,-31.6 7.04,-37.3 7.01,-42.3 7.03,-45.4 7.05,-49.0 7.02,-52.7 7.06,-57.5 7.00,-61.4
7.04,-66.0 7.01,-72.0 7.12,-20.6 7.10,-27.8 7.14,-33.9 7.11,-39.0 7.13,-43.7 7.15,-48.3 7.12,-51.4 7.16,-55.7
7.10,-59.0 7.14,-64.7 7.11,-70.0 7.22,-25.7 7.20,-32.6 7.24,-37.4 7.21,-41.5 7.23,-45.6 7.25,-49.7 7.22,-53.6
7.26,-57.9 7.20,-62.8 7.24,-68.2 7.21,-74.2 7.32,-19.6 7.30,-27.4 7.34,-34.9 7.31,-40.4 7.33,-44.9 7.35,-47.4
7.32,-52.4 7.36,-55.6 7.30,-60.4 7.34,-65.6 7.31,-71.8 7.42,-23.0 7.40,-30.4 7.44,-37.0 7.41,-42.6 7.43,-46.4
7.45,-50.8 7.42,-55.0 7.46,-59.6 7.40,-64.0 7.44,-70.4 7.52,-27.0 7.50,-33.4 7.54,-40.0 7.51,-44.0 7.53,-48.6
7.55,-53.6 7.52,-58.0 7.56,-62.7 7.50,-67.6 7.62,-21.5 7.60,-29.6 7.64,-35.6 7.61,-42.2 7.63,-47.8 7.65,-52.6
7.62,-59.2 7.66,-64.8 7.60,-70.8 7.72,-24.9 7.70,-32.8 7.74,-38.8 7.71,-45.2 7.73,-51.0 7.75,-56.0 7.72,-62.4
7.76,-68.2 7.82,-18.9 7.80,-28.5 7.84,-36.6 7.81,-43.6 7.83,-49.8 7.85,-57.0 7.82,-64.6 7.92,-26.3 7.90,-33.8
7.94,-41.5 7.91,-50.2 7.93,-58.8 7.95,-66.8
"""
tfr_fit_x = [2.0, 2.29, 2.69, 3.09, 3.49, 3.83, 4.09, 4.49, 4.97, 5.29, 5.69, 6.01, 6.29, 6.89, 7.29, 7.69, 7.99]
tfr_fit = [-17.8, -21.6, -26.5, -32.0, -36.5, -39.5, -39.6, -39.2, -39.2, -40.5, -42.5, -44.7, -45.9, -45.9, -45.5, -44.0, -42.8]
tfr_hi = [-10.1, -14.1, -19.3, -25.3, -32.0, -35.7, -36.5, -36.3, -36.6, -38.4, -41.4, -43.9, -45.2, -45.0, -44.4, -42.5, -41.0]
tfr_lo = [-26.0, -28.3, -32.0, -36.9, -41.7, -43.5, -42.9, -42.0, -42.0, -43.2, -45.5, -47.0, -47.4, -47.4, -46.5, -45.5, -44.4]
tfr_ticks = [2, 4, 6, 8]

y_ticks = [-75, -50, -25, 0, 25, 50, 75]


def parse(*blocks):
    xs, ys = [], []
    for block in blocks:
        for tok in block.split():
            a, b = tok.split(",")
            xs.append(float(a))
            ys.append(float(b))
    return xs, ys


W, H = 1196, 489
PT_COLOR = "#b0b0b0"
LINE_COLOR = "#1a1a1a"

fig = go.Figure()


def add_panel(xs, ys, fx, fy, bx, bhi, blo, xa, ya):
    fig.add_trace(go.Scatter(x=xs, y=ys, mode="markers", xaxis=xa, yaxis=ya,
                             marker=dict(size=4.4, color=PT_COLOR, line=dict(width=0)),
                             showlegend=False, hoverinfo="skip"))
    for yy in (bhi, blo):
        fig.add_trace(go.Scatter(x=bx, y=yy, mode="lines", xaxis=xa, yaxis=ya,
                                 line=dict(color=LINE_COLOR, width=1.8, dash="3px,2px", shape="spline"),
                                 showlegend=False, hoverinfo="skip"))
    fig.add_trace(go.Scatter(x=fx, y=fy, mode="lines", xaxis=xa, yaxis=ya,
                             line=dict(color=LINE_COLOR, width=1.2, shape="spline"),
                             showlegend=False, hoverinfo="skip"))


ix, iy = parse(imr_upper, imr_left, imr_right, imr_cloud, imr_dense)
tx, ty = parse(tfr_upper, tfr_left, tfr_cloud, tfr_dense)
add_panel(ix, iy, imr_fit_x, imr_fit, imr_band_x, imr_hi, imr_lo, "x", "y")
add_panel(tx, ty, tfr_fit_x, tfr_fit, tfr_fit_x, tfr_hi, tfr_lo, "x2", "y2")

# reference line at zero
for xr, yr in (("x domain", "y"), ("x2 domain", "y2")):
    fig.add_shape(type="line", xref=xr, yref=yr, x0=0, x1=1, y0=0, y1=0,
                  line=dict(color="#505050", width=1.6, dash="14px,6px"), layer="below")

tick_font = dict(family=FONT, size=19, color="#111")
axis_common = dict(showgrid=False, zeroline=False, showline=True, linecolor="#333",
                   linewidth=1.2, ticks="outside", ticklen=6, tickwidth=1.2, tickcolor="#333",
                   tickfont=tick_font, fixedrange=True)
y_text = [str(v) for v in y_ticks]

yd = [(H - 430.5) / H, (H - 77) / H]
fig.update_layout(
    width=W, height=H,
    margin=dict(l=0, r=0, t=0, b=0),
    paper_bgcolor="white", plot_bgcolor="white",
    xaxis=dict(domain=[65 / W, 585 / W], range=[-3.6, 204], tickvals=imr_ticks, anchor="y",
               ticklabelstandoff=-3, **axis_common),
    yaxis=dict(domain=yd, range=[-79.3, 79], tickvals=y_ticks, ticktext=y_text, tickangle=-90, anchor="x",
               **axis_common),
    xaxis2=dict(domain=[673 / W, 1193 / W], range=[1.89, 8.12], tickvals=tfr_ticks, anchor="y2",
                ticklabelstandoff=-3, **axis_common),
    yaxis2=dict(domain=yd, range=[-79.3, 79], tickvals=y_ticks, ticktext=y_text, tickangle=-90, anchor="x2",
                **axis_common),
)

title_font = dict(family=FONT, size=31, color="#111")
lab_font = dict(family=FONT, size=21, color="#111")
ann = [
    dict(text="(a)\u00a0\u00a0Infant Mortality Rate", x=41 / W, y=1 - 20 / H, font=title_font,
         xanchor="left", yanchor="middle"),
    dict(text="(b)\u00a0\u00a0Total Fertility Rate", x=611 / W, y=1 - 20 / H, font=title_font,
         xanchor="left", yanchor="middle"),
    dict(text="Infant Mortality Rate (per 1000)", x=325 / W, y=(H - 475) / H, font=lab_font,
         xanchor="center", yanchor="middle"),
    dict(text="Total Fertility Rate", x=933 / W, y=(H - 475) / H, font=lab_font,
         xanchor="center", yanchor="middle"),
    dict(text="Percentage Change in <sub>1</sub>q<sub>0</sub>", x=20 / W, y=(H - 254) / H, font=lab_font,
         textangle=-90, xanchor="center", yanchor="middle"),
    dict(text="Percentage Change in <sub>1</sub>q<sub>0</sub>", x=628 / W, y=(H - 254) / H, font=lab_font,
         textangle=-90, xanchor="center", yanchor="middle"),
]
for a in ann:
    a.update(xref="paper", yref="paper", showarrow=False)
fig.update_layout(annotations=ann)

fig.write_html("out.html", include_plotlyjs=True, config={"displayModeBar": False})
